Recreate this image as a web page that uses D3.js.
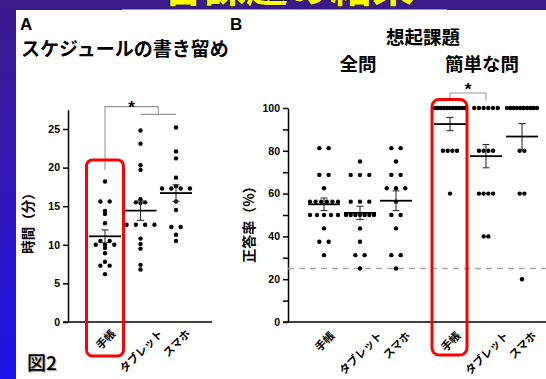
<!DOCTYPE html>
<html><head><meta charset="utf-8">
<script src="https://cdn.jsdelivr.net/npm/d3@7"></script>
<style>
html,body{margin:0;padding:0;background:#fff;}
svg{display:block;}
</style></head>
<body>
<svg id="chart" width="546" height="379"></svg>
<script>
// ---------------- DATA ----------------
const bannerTitle = "各課題の結果";
const panelATitle = "スケジュールの書き留め";
const panelBTitle = "想起課題";
const setNames = ["全問", "簡単な問"];
const categories = ["手帳", "タブレット", "スマホ"];
const figLabel = "図2";
const yLabelA = "時間（分）";
const yLabelB = "正答率（%）";
const ticksA = [0, 5, 10, 15, 20, 25];
const ticksB = [0, 10, 20, 30, 40, 50, 60, 70, 80, 90, 100];
const chanceLevel = 25;

// Panel A: time (minutes)
const timeNotebook   = [18.2, 15.6, 15.6, 14.4, 14.0, 12.8, 10.5, 10.5, 10.0, 10.0, 10.0, 9.6, 8.9, 7.8, 7.3, 7.3, 6.2];
const timeTablet     = [24.8, 23.1, 20.3, 19.7, 15.9, 15.5, 15.5, 15.4, 12.6, 12.6, 12.6, 12.6, 10.8, 10.1, 9.5, 7.4, 6.8];
const timeSmartphone = [25.2, 22.1, 21.2, 18.7, 17.6, 17.3, 17.3, 17.3, 17.3, 15.6, 14.5, 12.3, 12.3, 11.3, 10.5];

// Panel B: accuracy (%), all questions
const allNotebook   = [81.25, 81.25, 68.75, 68.75, 62.5, 56.25, 56.25, 56.25, 56.25, 56.25, 56.25, 50, 50, 50, 50, 50, 43.75, 37.5, 37.5, 31.25];
const allTablet     = [75, 68.75, 68.75, 68.75, 56.25, 56.25, 56.25, 50, 50, 50, 50, 50, 50, 50, 43.75, 37.5, 31.25, 31.25, 25];
const allSmartphone = [81.25, 81.25, 75, 68.75, 68.75, 62.5, 62.5, 62.5, 56.25, 50, 50, 43.75, 31.25, 31.25, 25];
// Panel B: accuracy (%), easy questions
const easyNotebook   = [100, 100, 100, 100, 100, 100, 100, 100, 100, 100, 100, 80, 80, 80, 80, 60];
const easyTablet     = [100, 100, 100, 100, 100, 100, 80, 80, 80, 80, 60, 60, 60, 60, 40, 40];
const easySmartphone = [100, 100, 100, 100, 100, 100, 100, 100, 100, 100, 80, 80, 60, 60, 20];

// ---------------- DRAWING ----------------
const W = 546, H = 379;
const svg = d3.select("#chart");
const jp = "'Noto Sans CJK JP','Noto Sans',sans-serif";
const num = "'Liberation Sans',Arial,sans-serif";

const defs = svg.append("defs");
const grad = defs.append("linearGradient").attr("id", "bg").attr("x1", 0).attr("y1", 0).attr("x2", 0).attr("y2", 1);
grad.append("stop").attr("offset", "0%").attr("stop-color", "#3b1a8a");
grad.append("stop").attr("offset", "45%").attr("stop-color", "#3317b4");
grad.append("stop").attr("offset", "100%").attr("stop-color", "#1c12ea");
svg.append("rect").attr("width", W).attr("height", H).attr("fill", "url(#bg)");

// banner title (mostly hidden behind the panel, as in the reference)
svg.append("text").attr("x", 288).attr("y", 2).attr("text-anchor", "middle")
  .attr("font-family", jp).attr("font-weight", 700).attr("font-size", 42)
  .attr("fill", "#ffff00").attr("stroke", "#1a1030").attr("stroke-width", 1.5)
  .attr("paint-order", "stroke").text(bannerTitle);

svg.append("rect").attr("x", 16).attr("y", 10).attr("width", W - 16).attr("height", H - 10).attr("fill", "#ffffff");
svg.append("line").attr("x1", 122).attr("x2", 447).attr("y1", 9.5).attr("y2", 9.5).attr("stroke", "#9a8ed6").attr("stroke-width", 1);

function rowLayout(values, cx, y, sBase, maxW) {
  const sorted = values.slice().sort((a, b) => b - a);
  const rows = [];
  sorted.forEach(v => {
    const last = rows[rows.length - 1];
    if (last && Math.abs(y(last[0]) - y(v)) <= 0.6) last.push(v); else rows.push([v]);
  });
  const pts = [];
  rows.forEach(r => {
    const n = r.length;
    const s = n > 1 ? Math.min(sBase, maxW / (n - 1)) : 0;
    r.forEach((v, i) => pts.push({x: cx + (i - (n - 1) / 2) * s, y: y(v)}));
  });
  return pts;
}

function drawGroup(g, values, cx, y, sBase, maxW) {
  const pts = rowLayout(values, cx, y, sBase, maxW);
  g.append("g").selectAll("circle").data(pts).join("circle")
    .attr("cx", d => d.x).attr("cy", d => d.y).attr("r", 2.2).attr("fill", "#000");
  const m = d3.mean(values);
  const sem = d3.deviation(values) / Math.sqrt(values.length);
  const e = g.append("g").attr("stroke", "#333").attr("stroke-width", 1.1).attr("fill", "none");
  e.append("line").attr("x1", cx).attr("x2", cx).attr("y1", y(m - sem)).attr("y2", y(m + sem));
  e.append("line").attr("x1", cx - 3.5).attr("x2", cx + 3.5).attr("y1", y(m - sem)).attr("y2", y(m - sem));
  e.append("line").attr("x1", cx - 3.5).attr("x2", cx + 3.5).attr("y1", y(m + sem)).attr("y2", y(m + sem));
  g.append("line").attr("x1", cx - 16).attr("x2", cx + 16).attr("y1", y(m)).attr("y2", y(m))
    .attr("stroke", "#000").attr("stroke-width", 1.8);
}

function catLabel(g, x, text, top) {
  const fs = 11;
  const t = g.append("text").text(text).attr("font-family", jp).attr("font-weight", 700)
    .attr("font-size", fs).attr("text-anchor", "middle").attr("dominant-baseline", "central").attr("fill", "#000");
  const L = t.node().getComputedTextLength();
  const cy = top + 0.3536 * (L + fs);
  t.attr("transform", `translate(${x},${cy}) rotate(-45)`);
}

function styleAxis(ax) {
  ax.select(".domain").attr("stroke", "#000").attr("stroke-width", 1.5);
  ax.selectAll(".tick line").attr("stroke", "#000").attr("stroke-width", 1.5);
  ax.selectAll(".tick text").attr("font-family", num).attr("font-weight", 700).attr("font-size", 10.5).attr("fill", "#000");
}

const baseY = 322;

// ---------- Panel A ----------
const gA = svg.append("g");
const yA = d3.scaleLinear().domain([0, 27.5]).range([baseY, 109.7]);
const xA = d3.scalePoint().domain(categories).range([105, 176]);
const axA = gA.append("g").attr("transform", "translate(68,0)")
  .call(d3.axisLeft(yA).tickValues(ticksA).tickSize(5).tickSizeOuter(0).tickPadding(3));
styleAxis(axA);
gA.append("line").attr("x1", 63).attr("x2", xA(categories[2]) + 36).attr("y1", baseY).attr("y2", baseY)
  .attr("stroke", "#000").attr("stroke-width", 1.5);

gA.append("text").attr("x", 20).attr("y", 30).attr("font-family", num).attr("font-weight", 700).attr("font-size", 17).text("A");
gA.append("text").attr("x", 21).attr("y", 56).attr("font-family", jp).attr("font-weight", 700).attr("font-size", 19).text(panelATitle);
gA.append("text").attr("transform", `translate(33,220) rotate(-90)`).attr("text-anchor", "middle")
  .attr("font-family", jp).attr("font-weight", 700).attr("font-size", 13.5).text(yLabelA);

const dataA = [timeNotebook, timeTablet, timeSmartphone];
dataA.forEach((vals, i) => drawGroup(gA, vals, xA(categories[i]), yA, 9.3, 28));
categories.forEach(c => catLabel(gA, xA(c), c, 327));

// significance bracket A
const br = gA.append("g").attr("stroke", "#999").attr("stroke-width", 1.1).attr("fill", "none");
const midTS = (xA(categories[1]) + xA(categories[2])) / 2;
br.append("path").attr("d", `M${xA(categories[0])},${yA(19.7)}V${yA(27.9)}H${midTS}V${yA(26.9)}`);
br.append("path").attr("d", `M${xA(categories[1])},${yA(26.9)}H${xA(categories[2])}`);
gA.append("text").attr("x", (xA(categories[0]) + midTS) / 2).attr("y", yA(27.9) + 6).attr("text-anchor", "middle")
  .attr("font-family", num).attr("font-weight", 700).attr("font-size", 17).text("*");

// red box A
gA.append("rect").attr("x", xA(categories[0]) - 18.5).attr("y", yA(21)).attr("width", 37).attr("height", 356 - yA(21))
  .attr("rx", 6).attr("fill", "none").attr("stroke", "#ff0000").attr("stroke-width", 3);

svg.append("text").attr("x", 27).attr("y", 370).attr("font-family", jp).attr("font-weight", 500).attr("font-size", 19)
  .attr("fill", "#000").style("text-shadow", "1px 1px 1px #999").text(figLabel);

// ---------- Panel B ----------
const gB = svg.append("g");
const yB = d3.scaleLinear().domain([0, 100]).range([baseY, 108]);
const xAll = d3.scalePoint().domain(categories).range([324, 396]);
const xEasy = d3.scalePoint().domain(categories).range([450, 522]);
const axB = gB.append("g").attr("transform", "translate(288,0)")
  .call(d3.axisLeft(yB).tickValues(ticksB).tickSize(5).tickSizeOuter(0).tickPadding(3)
    .tickFormat(d => d % 20 === 0 ? d : ""));
styleAxis(axB);
gB.append("line").attr("x1", 283).attr("x2", W).attr("y1", baseY).attr("y2", baseY).attr("stroke", "#000").attr("stroke-width", 1.5);
gB.append("line").attr("x1", 288).attr("x2", W).attr("y1", yB(chanceLevel)).attr("y2", yB(chanceLevel))
  .attr("stroke", "#aaa").attr("stroke-width", 1.3).attr("stroke-dasharray", "6,5");

gB.append("text").attr("x", 230).attr("y", 30).attr("font-family", num).attr("font-weight", 700).attr("font-size", 17).text("B");
gB.append("text").attr("x", 423).attr("y", 44).attr("text-anchor", "middle").attr("font-family", jp).attr("font-weight", 700).attr("font-size", 18.5).text(panelBTitle);
gB.append("text").attr("x", (xAll.range()[0] + xAll.range()[1]) / 2 - 2).attr("y", 71).attr("text-anchor", "middle").attr("font-family", jp).attr("font-weight", 700).attr("font-size", 18.5).text(setNames[0]);
gB.append("text").attr("x", (xEasy.range()[0] + xEasy.range()[1]) / 2 - 4).attr("y", 71).attr("text-anchor", "middle").attr("font-family", jp).attr("font-weight", 700).attr("font-size", 18.5).text(setNames[1]);
gB.append("text").attr("transform", `translate(254,221) rotate(-90)`).attr("text-anchor", "middle")
  .attr("font-family", jp).attr("font-weight", 700).attr("font-size", 14).text(yLabelB);

[allNotebook, allTablet, allSmartphone].forEach((vals, i) => drawGroup(gB, vals, xAll(categories[i]), yB, 9.3, 28));
[easyNotebook, easyTablet, easySmartphone].forEach((vals, i) => drawGroup(gB, vals, xEasy(categories[i]), yB, 4.7, 30));
categories.forEach(c => { catLabel(gB, xAll(c), c, 329); catLabel(gB, xEasy(c), c, 329); });

// significance bracket B
const brB = gB.append("g").attr("stroke", "#999").attr("stroke-width", 1.1).attr("fill", "none");
brB.append("path").attr("d", `M${xEasy(categories[0])},${yB(103.5)}V${yB(107)}H${xEasy(categories[1])}V${yB(103.5)}`);
gB.append("text").attr("x", (xEasy(categories[0]) + xEasy(categories[1])) / 2).attr("y", yB(107) + 2).attr("text-anchor", "middle")
  .attr("font-family", num).attr("font-weight", 700).attr("font-size", 17).text("*");

// red box B
gB.append("rect").attr("x", xEasy(categories[0]) - 18).attr("y", yB(104)).attr("width", 35).attr("height", 355 - yB(104))
  .attr("rx", 7).attr("fill", "none").attr("stroke", "#ff0000").attr("stroke-width", 3);
</script>
</body></html>
